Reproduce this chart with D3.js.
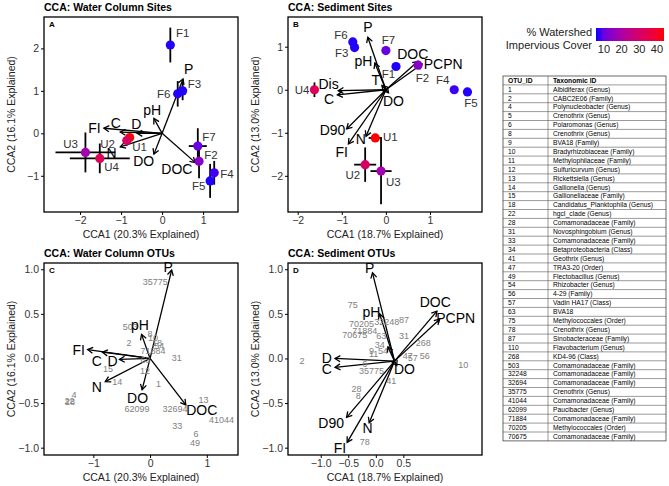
<!DOCTYPE html>
<html>
<head>
<meta charset="utf-8">
<script src="https://cdn.jsdelivr.net/npm/d3@7"></script>
<style>
body { margin: 0; background: #fff; }
svg text { font-family: "Liberation Sans", Arial, sans-serif; }
</style>
</head>
<body>
<svg id="chart" width="669" height="486"></svg>
<script>
// sites (same order in both site panels) and their % impervious cover
var siteNames = ["F1", "F2", "F3", "F4", "F5", "F6", "F7", "U1", "U2", "U3", "U4"];
var siteCover = [6, 14, 6, 7, 6, 6, 10, 44, 31, 18, 33];

// A: water column sites
var wcSiteX    = [0.2, 0.9, 0.5, 1.27, 1.17, 0.38, 0.87, -0.79, -0.86, -1.87, -1.52];
var wcSiteY    = [2.08, -0.66, 1.0, -0.93, -1.12, 0.93, -0.3, -0.1, -0.17, -0.45, -0.59];
var wcSiteXErr = [0.03, 0.03, 0.08, 0.06, 0.05, 0.1, 0.22, 0.06, 0.1, 0.73, 0.73];
var wcSiteYErr = [0.41, 0.4, 0.22, 0.28, 0.4, 0.3, 0.42, 0.06, 0.12, 0.47, 0.35];
var wcSiteLabX = [0.5, 1.19, 0.79, 1.58, 0.89, 0.04, 1.14, -0.55, -1.33, -2.23, -1.23];
var wcSiteLabY = [2.36, -0.51, 1.16, -0.95, -1.24, 0.93, -0.08, -0.32, -0.25, -0.25, -0.8];

var wcVars     = ["P", "pH", "FI", "C", "D", "N", "DO", "DOC"];
var wcVarX     = [0.51, -0.2, -1.42, -1.02, -0.61, -1.02, -0.2, 0.81];
var wcVarY     = [1.28, 0.35, 0.12, 0.03, 0.0, -0.32, -0.49, -0.69];
var wcVarLabX  = [0.65, -0.24, -1.65, -1.13, -0.63, -1.23, -0.45, 0.36];
var wcVarLabY  = [1.51, 0.55, 0.13, 0.25, 0.22, -0.46, -0.65, -0.85];

// B: sediment sites
var sdSiteX    = [0.23, 0.73, -0.71, 1.55, 1.85, -0.75, 0.0, -0.24, -0.47, -0.11, -1.62];
var sdSiteY    = [0.54, 0.57, 0.98, 0.0, -0.05, 1.11, 0.91, -1.12, -1.74, -1.89, 0.0];
var sdSiteXErr = [0.03, 0.03, 0.03, 0.03, 0.03, 0.03, 0.03, 0.15, 0.25, 0.24, 0.03];
var sdSiteYErr = [0.05, 0.05, 0.05, 0.05, 0.05, 0.05, 0.1, 0.05, 0.4, 0.77, 0.17];
var sdSiteLabX = [0.06, 0.83, -1.0, 1.29, 1.93, -1.02, 0.06, 0.1, -0.75, 0.17, -1.9];
var sdSiteLabY = [0.36, 0.27, 0.86, 0.24, -0.3, 1.28, 1.15, -1.1, -1.97, -2.15, 0.0];

var sdVars     = ["P", "pH", "T", "Dis", "C", "DOC", "PCPN", "DO", "D90", "FI", "N"];
var sdVarX     = [-0.41, -0.25, -0.09, -1.08, -1.1, 0.73, 0.82, 0.06, -0.89, -0.85, -0.45];
var sdVarY     = [1.22, 0.62, 0.1, -0.02, -0.12, 0.66, 0.6, -0.07, -0.91, -1.26, -1.08];
var sdVarLabX  = [-0.41, -0.51, -0.23, -1.3, -1.29, 0.61, 1.3, 0.17, -1.21, -1.0, -0.57];
var sdVarLabY  = [1.46, 0.66, 0.22, 0.14, -0.21, 0.84, 0.6, -0.25, -0.93, -1.45, -1.14];

// C: water column OTUs
var wcOtus = ["35775", "503", "8", "10", "18", "54", "71884", "2", "63", "31", "15", "14", "12", "1",
              "4", "28", "22", "62099", "32694", "13", "41044", "33", "6", "49"];
var wcOtuX = [0.09, -0.35, 0.0, 0.05, 0.12, 0.16, 0.05, -0.37, -0.08, 0.47, -0.74, -0.58, -0.09, 0.15,
              -1.34, -1.41, -1.42, -0.23, 0.44, 0.94, 1.26, 0.48, 0.81, 0.79];
var wcOtuY = [0.86, 0.35, 0.28, 0.23, 0.18, 0.14, 0.08, 0.17, -0.01, 0.01, -0.12, -0.26, -0.14, -0.29,
              -0.41, -0.49, -0.48, -0.56, -0.56, -0.46, -0.69, -0.75, -0.84, -0.95];
var wcOtuVars  = ["P", "pH", "FI", "C", "D", "N", "DO", "DOC"];
var wcOtuVarX  = [0.38, -0.15, -1.1, -0.84, -0.54, -0.79, -0.14, 0.63];
var wcOtuVarY  = [0.99, 0.27, 0.1, 0.07, -0.01, -0.26, -0.35, -0.52];
var wcOtuLabX  = [0.32, -0.18, -1.26, -0.94, -0.66, -0.94, -0.22, 0.91];
var wcOtuLabY  = [1.03, 0.37, 0.09, -0.03, -0.03, -0.32, -0.44, -0.58];

// D: sediment OTUs (arrows start off-centre in this panel)
var sdOtus = ["75", "70205", "32248", "87", "71884", "70675", "63", "31", "268", "34", "9", "54", "11",
              "47", "57", "56", "6", "35775", "41", "28", "8", "2", "78", "10"];
var sdOtuX = [-0.42, -0.26, 0.2, 0.51, -0.2, -0.38, 0.1, 0.51, 0.86, 0.07, -0.08, 0.13, -0.04,
              0.58, 0.67, 0.89, -0.2, -0.08, 0.28, -0.35, -0.32, -1.34, -0.2, 1.59];
var sdOtuY = [0.6, 0.39, 0.41, 0.43, 0.31, 0.26, 0.25, 0.25, 0.17, 0.15, 0.09, 0.08, 0.05,
              0.03, 0.01, 0.03, -0.06, -0.14, -0.25, -0.34, -0.42, -0.03, -0.94, -0.07];
var sdOtuOrigin = [0.34, -0.03];
var sdOtuVars  = ["P", "pH", "D", "C", "DOC", "PCPN", "DO", "D90", "FI", "N", "T"];
var sdOtuVarX  = [-0.06, 0.07, -0.74, -0.74, 1.11, 1.16, 0.38, -0.53, -0.52, -0.12, 0.22];
var sdOtuVarY  = [0.96, 0.5, 0.0, -0.1, 0.53, 0.44, -0.08, -0.66, -0.94, -0.72, 0.13];
var sdOtuLabX  = [-0.11, -0.08, -0.89, -0.89, 1.08, 1.45, 0.52, -0.81, -0.65, -0.15, null];
var sdOtuLabY  = [1.02, 0.52, 0.01, -0.12, 0.63, 0.45, -0.12, -0.72, -1.0, -0.78, null];

// legend + table
var coverTicks = [10, 20, 30, 40];
var otuIds = ["1", "2", "4", "5", "6", "8", "9", "10", "11", "12", "13", "14", "15", "18", "22", "28", "31",
  "33", "34", "41", "47", "49", "54", "56", "57", "63", "75", "78", "87", "110", "268", "503", "32248",
  "32694", "35775", "41044", "62099", "71884", "70205", "70675"];
var otuTaxa = ["Albidiferax (Genus)", "CABC2E06 (Family)", "Polynucleobacter (Genus)", "Crenothrix (Genus)",
  "Polaromonas (Genus)", "Crenothrix (Genus)", "BVA18 (Family)", "Bradyrhizobiaceae (Family)",
  "Methylophilaceae (Family)", "Sulfuricurvum (Genus)", "Rickettsiella (Genus)", "Gallionella (Genus)",
  "Gallionellaceae (Family)", "Candidatus_Planktophila (Genus)", "hgcI_clade (Genus)",
  "Comamonadaceae (Family)", "Novosphingobium (Genus)", "Comamonadaceae (Family)",
  "Betaproteobacteria (Class)", "Geothrix (Genus)", "TRA3-20 (Order)", "Flectobacillus (Genus)",
  "Rhizobacter (Genus)", "4-29 (Family)", "Vadin HA17 (Class)", "BVA18", "Methylococcales (Order)",
  "Crenothrix (Genus)", "Sinobacteraceae (Family)", "Flavobacterium (Genus)", "KD4-96 (Class)",
  "Comamonadaceae (Family)", "Comamonadaceae (Family)", "Comamonadaceae (Family)", "Crenothrix (Genus)",
  "Comamonadaceae (Family)", "Paucibacter (Genus)", "Comamonadaceae (Family)", "Methylococcales (Order)",
  "Comamonadaceae (Family)"];

var svg = d3.select("#chart");
var color = d3.scaleLinear().domain([5.5, 44]).range(["blue", "red"]).interpolate(d3.interpolateLab);

function arrowHead(x1, y1, x2, y2, len) {
  var a = Math.atan2(y2 - y1, x2 - x1);
  var a1 = a + Math.PI - Math.PI / 6, a2 = a + Math.PI + Math.PI / 6;
  return "M" + (x2 + len * Math.cos(a1)) + "," + (y2 + len * Math.sin(a1)) +
         "L" + x2 + "," + y2 +
         "L" + (x2 + len * Math.cos(a2)) + "," + (y2 + len * Math.sin(a2));
}

function drawPanel(p) {
  var x = d3.scaleLinear().domain(p.xDomain).range([p.left, p.right]);
  var y = d3.scaleLinear().domain(p.yDomain).range([p.bottom, p.top]);
  var g = svg.append("g");

  var xa = g.append("g").attr("transform", "translate(0," + p.bottom + ")")
    .call(d3.axisBottom(x).tickValues(p.xTicks).tickSize(3).tickPadding(2).tickFormat(d3.format(p.xFmt)));
  var ya = g.append("g").attr("transform", "translate(" + p.left + ",0)")
    .call(d3.axisLeft(y).tickValues(p.yTicks).tickSize(3).tickPadding(2).tickFormat(d3.format(p.yFmt)));
  [xa, ya].forEach(function(a) {
    a.select(".domain").remove();
    a.selectAll("text").attr("font-size", "10.5px").attr("fill", "#333").style("font-family", "Liberation Sans, Arial, sans-serif");
    a.selectAll("line").attr("stroke", "#000");
  });

  g.append("rect").attr("x", p.left).attr("y", p.top)
    .attr("width", p.right - p.left).attr("height", p.bottom - p.top)
    .attr("fill", "none").attr("stroke", "#000").attr("stroke-width", 1.3);

  g.append("text").attr("x", p.left).attr("y", p.top - 6)
    .attr("font-size", "10.5px").attr("font-weight", "bold").text(p.title);
  g.append("text").attr("x", p.left + 5).attr("y", p.top + 10)
    .attr("font-size", "8px").attr("font-weight", "bold").text(p.letter);
  g.append("text").attr("x", (p.left + p.right) / 2).attr("y", p.bottom + 26)
    .attr("text-anchor", "middle").attr("font-size", "10.5px").attr("fill", "#222").text(p.xTitle);
  g.append("text")
    .attr("transform", "translate(" + (p.left - 29) + "," + ((p.top + p.bottom) / 2) + ") rotate(-90)")
    .attr("text-anchor", "middle").attr("font-size", "10.5px").attr("fill", "#222").text(p.yTitle);

  // biplot arrows
  var ox = p.origin ? p.origin[0] : 0, oy = p.origin ? p.origin[1] : 0;
  p.vars.forEach(function(v, i) {
    var x1 = x(ox), y1 = y(oy), x2 = x(p.varX[i]), y2 = y(p.varY[i]);
    g.append("line").attr("x1", x1).attr("y1", y1).attr("x2", x2).attr("y2", y2)
      .attr("stroke", "#000").attr("stroke-width", 1.3);
    g.append("path").attr("d", arrowHead(x1, y1, x2, y2, 6))
      .attr("fill", "none").attr("stroke", "#000").attr("stroke-width", 1.3);
  });

  // OTU scores
  if (p.otus) {
    g.selectAll(".otu").data(p.otus).enter().append("text")
      .attr("x", function(d, i) { return x(p.otuX[i]); })
      .attr("y", function(d, i) { return y(p.otuY[i]); })
      .attr("dy", "0.35em").attr("text-anchor", "middle")
      .attr("font-size", "9px").attr("fill", "#808080").text(function(d) { return d; });
  }

  // arrow labels
  p.vars.forEach(function(v, i) {
    if (p.labX[i] === null) return;
    g.append("text").attr("x", x(p.labX[i])).attr("y", y(p.labY[i]))
      .attr("dy", "0.36em").attr("text-anchor", "middle")
      .attr("font-size", "14px").attr("fill", "#000").text(v);
  });

  // sites: error bars, points, labels
  if (p.siteX) {
    siteNames.forEach(function(s, i) {
      var cx = x(p.siteX[i]), cy = y(p.siteY[i]);
      g.append("line").attr("x1", x(p.siteX[i] - p.xErr[i])).attr("x2", x(p.siteX[i] + p.xErr[i]))
        .attr("y1", cy).attr("y2", cy).attr("stroke", "#000").attr("stroke-width", 1.8);
      g.append("line").attr("x1", cx).attr("x2", cx)
        .attr("y1", y(p.siteY[i] - p.yErr[i])).attr("y2", y(p.siteY[i] + p.yErr[i]))
        .attr("stroke", "#000").attr("stroke-width", 1.8);
    });
    g.selectAll(".site").data(siteNames).enter().append("circle")
      .attr("cx", function(d, i) { return x(p.siteX[i]); })
      .attr("cy", function(d, i) { return y(p.siteY[i]); })
      .attr("r", 4.6)
      .attr("fill", function(d, i) { return color(siteCover[i]); });
    g.selectAll(".slab").data(siteNames).enter().append("text")
      .attr("x", function(d, i) { return x(p.siteLabX[i]); })
      .attr("y", function(d, i) { return y(p.siteLabY[i]); })
      .attr("dy", "0.36em").attr("text-anchor", "middle")
      .attr("font-size", "11.5px").attr("fill", "#333").text(function(d) { return d; });
  }
}

drawPanel({
  left: 44, right: 238, top: 17, bottom: 212,
  xDomain: [-2.88, 1.85], yDomain: [-1.853, 2.74],
  xTicks: [-2, -1, 0, 1], yTicks: [-1, 0, 1, 2], xFmt: "d", yFmt: "d",
  title: "CCA: Water Column Sites", letter: "A",
  xTitle: "CCA1 (20.3% Explained)", yTitle: "CCA2 (16.1% Explained)",
  vars: wcVars, varX: wcVarX, varY: wcVarY, labX: wcVarLabX, labY: wcVarLabY,
  siteX: wcSiteX, siteY: wcSiteY, xErr: wcSiteXErr, yErr: wcSiteYErr,
  siteLabX: wcSiteLabX, siteLabY: wcSiteLabY
});

drawPanel({
  left: 288, right: 482, top: 17, bottom: 212,
  xDomain: [-2.22, 2.18], yDomain: [-2.84, 1.69],
  xTicks: [-2, -1, 0, 1], yTicks: [-2, -1, 0, 1], xFmt: "d", yFmt: "d",
  title: "CCA: Sediment Sites", letter: "B",
  xTitle: "CCA1 (18.7% Explained)", yTitle: "CCA2 (13.0% Explained)",
  vars: sdVars, varX: sdVarX, varY: sdVarY, labX: sdVarLabX, labY: sdVarLabY,
  siteX: sdSiteX, siteY: sdSiteY, xErr: sdSiteXErr, yErr: sdSiteYErr,
  siteLabX: sdSiteLabX, siteLabY: sdSiteLabY
});

drawPanel({
  left: 44, right: 238, top: 263, bottom: 455,
  xDomain: [-1.87, 1.55], yDomain: [-1.082, 1.07],
  xTicks: [-1, 0, 1], yTicks: [-1, -0.5, 0, 0.5, 1], xFmt: "d", yFmt: ".1f",
  title: "CCA: Water Column OTUs", letter: "C",
  xTitle: "CCA1 (20.3% Explained)", yTitle: "CCA2 (16.1% Explained)",
  vars: wcOtuVars, varX: wcOtuVarX, varY: wcOtuVarY, labX: wcOtuLabX, labY: wcOtuLabY,
  otus: wcOtus, otuX: wcOtuX, otuY: wcOtuY
});

drawPanel({
  left: 288, right: 482, top: 263, bottom: 455,
  xDomain: [-1.594, 1.928], yDomain: [-1.082, 1.07],
  xTicks: [-1, -0.5, 0, 0.5], yTicks: [-1, -0.5, 0, 0.5, 1], xFmt: ".1f", yFmt: ".1f",
  title: "CCA: Sediment OTUs", letter: "D",
  xTitle: "CCA1 (18.7% Explained)", yTitle: "CCA2 (13.0% Explained)",
  origin: sdOtuOrigin,
  vars: sdOtuVars, varX: sdOtuVarX, varY: sdOtuVarY, labX: sdOtuLabX, labY: sdOtuLabY,
  otus: sdOtus, otuX: sdOtuX, otuY: sdOtuY
});

// colour bar legend
var leg = svg.append("g");
leg.append("text").attr("x", 592).attr("y", 36).attr("text-anchor", "end")
  .attr("font-size", "11px").attr("fill", "#222").text("% Watershed");
leg.append("text").attr("x", 592).attr("y", 48.5).attr("text-anchor", "end")
  .attr("font-size", "11px").attr("fill", "#222").text("Impervious Cover");
var barX = d3.scaleLinear().domain(color.domain()).range([596, 664]);
var grad = svg.append("defs").append("linearGradient").attr("id", "cover");
d3.range(0, 1.0001, 0.1).forEach(function(t) {
  var v = color.domain()[0] + t * (color.domain()[1] - color.domain()[0]);
  grad.append("stop").attr("offset", t).attr("stop-color", color(v));
});
leg.append("rect").attr("x", 596).attr("y", 28).attr("width", 68).attr("height", 13).attr("fill", "url(#cover)");
leg.selectAll(".ct").data(coverTicks).enter().append("text")
  .attr("x", function(d) { return barX(d); }).attr("y", 53)
  .attr("text-anchor", "middle").attr("font-size", "11px").attr("fill", "#222")
  .text(function(d) { return d; });

// OTU table
var rowH = 8.9, tTop = 76, tLeft = 503, tRight = 666, tDiv = 548;
var rows = [["OTU_ID", "Taxonomic ID"]].concat(otuIds.map(function(d, i) { return [d, otuTaxa[i]]; }));
var tab = svg.append("g");
rows.forEach(function(r, i) {
  var yy = tTop + i * rowH;
  tab.append("text").attr("x", tLeft + 5).attr("y", yy + rowH / 2).attr("dy", "0.35em")
    .attr("font-size", "6.7px").attr("font-weight", i === 0 ? "bold" : "normal").text(r[0]);
  tab.append("text").attr("x", tDiv + 5).attr("y", yy + rowH / 2).attr("dy", "0.35em")
    .attr("font-size", "6.7px").attr("font-weight", i === 0 ? "bold" : "normal").text(r[1]);
  if (i > 0) {
    tab.append("line").attr("x1", tLeft).attr("x2", tRight).attr("y1", yy).attr("y2", yy)
      .attr("stroke", "#555").attr("stroke-width", 0.6);
  }
});
tab.append("line").attr("x1", tDiv).attr("x2", tDiv).attr("y1", tTop).attr("y2", tTop + rows.length * rowH)
  .attr("stroke", "#555").attr("stroke-width", 0.6);
tab.append("rect").attr("x", tLeft).attr("y", tTop).attr("width", tRight - tLeft).attr("height", rows.length * rowH)
  .attr("fill", "none").attr("stroke", "#444").attr("stroke-width", 0.8);
</script>
</body>
</html>
